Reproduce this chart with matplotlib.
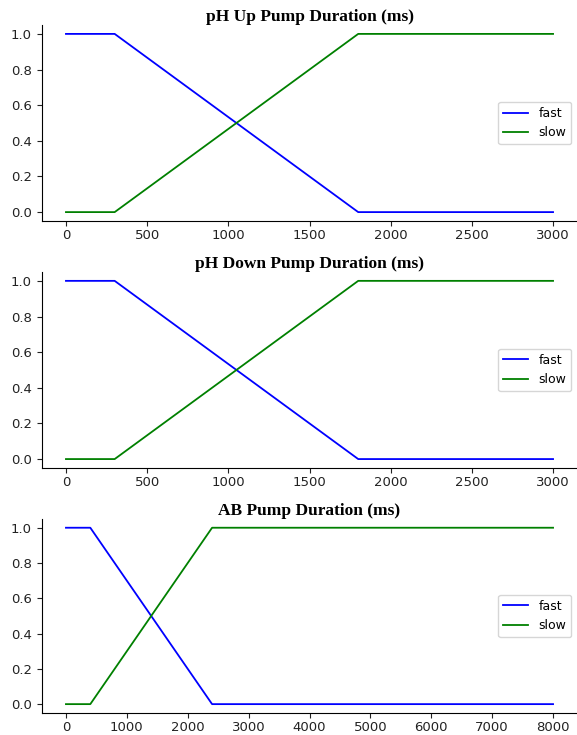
import matplotlib
matplotlib.use("Agg")
import matplotlib.pyplot as plt

titles = ["pH Up Pump Duration (ms)", "pH Down Pump Duration (ms)", "AB Pump Duration (ms)"]
labels = ["fast", "slow"]

ph_x = [0, 300, 1800, 3000]
ph_fast = [1.0, 1.0, 0.0, 0.0]
ph_slow = [0.0, 0.0, 1.0, 1.0]

ab_x = [0, 400, 2400, 8000]
ab_fast = [1.0, 1.0, 0.0, 0.0]
ab_slow = [0.0, 0.0, 1.0, 1.0]

datasets = [
    (ph_x, ph_fast, ph_slow),
    (ph_x, ph_fast, ph_slow),
    (ab_x, ab_fast, ab_slow),
]

fig = plt.figure(figsize=(5.77, 7.35), dpi=100)
bottoms = [0.6993, 0.3633, 0.0300]
heights = [0.2667, 0.2667, 0.2640]
for i, (title, (x, fast, slow)) in enumerate(zip(titles, datasets)):
    ax = fig.add_axes([0.0721, bottoms[i], 0.9286, heights[i]])
    ax.plot(x, fast, color="b", linewidth=1.3, label=labels[0])
    ax.plot(x, slow, color="g", linewidth=1.3, label=labels[1])
    ax.set_title(title, fontfamily="Liberation Serif", fontweight="bold", fontsize=12.5, pad=1.5)
    ax.spines["top"].set_visible(False)
    ax.spines["right"].set_visible(False)
    ax.tick_params(labelsize=9.5, colors="#222222")
    ax.tick_params(axis="x", pad=2.5)
    ax.legend(loc="center right", fontsize=9)

fig.savefig("out.png", dpi=100)
